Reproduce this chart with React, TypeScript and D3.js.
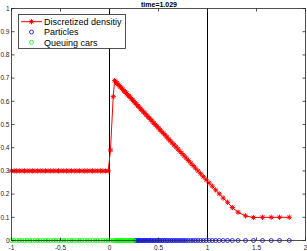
import React from "react";
import * as d3 from "d3";

const title = "time=1.029";
const xTicks = [-1, -0.5, 0, 0.5, 1, 1.5, 2];
const yTicks = [0, 0.1, 0.2, 0.3, 0.4, 0.5, 0.6, 0.7, 0.8, 0.9, 1];
const verticalLines = [0, 1];
const legendLabels = ["Discretized densitiy", "Particles", "Queuing cars"];

const densityX = [
  -1.0, -0.973, -0.947, -0.92, -0.893, -0.867, -0.84, -0.813, -0.787, -0.76,
  -0.733, -0.707, -0.68, -0.653, -0.627, -0.6, -0.573, -0.547, -0.52, -0.493,
  -0.467, -0.44, -0.413, -0.387, -0.36, -0.333, -0.307, -0.28, -0.253, -0.227,
  -0.2, -0.173, -0.147, -0.12, -0.093, -0.067, -0.04, -0.013,
  0.01, 0.038, 0.052, 0.064, 0.075, 0.087, 0.099, 0.111, 0.123, 0.135, 0.148,
  0.16, 0.173, 0.185, 0.198, 0.211, 0.224, 0.237, 0.25, 0.263, 0.277, 0.291,
  0.304, 0.318, 0.332, 0.347, 0.361, 0.376, 0.391, 0.406, 0.421, 0.436, 0.452,
  0.468, 0.484, 0.5, 0.516, 0.533, 0.55, 0.568, 0.585, 0.603, 0.621, 0.64,
  0.659, 0.679, 0.698, 0.719, 0.74, 0.761, 0.783, 0.805, 0.829, 0.853, 0.877,
  0.903, 0.93, 0.957, 0.986, 1.017, 1.049, 1.083, 1.12, 1.16, 1.204, 1.253,
  1.312, 1.388, 1.469, 1.561, 1.65, 1.735, 1.834,
];
const densityY = [
  0.3, 0.3, 0.3, 0.3, 0.3, 0.3, 0.3, 0.3, 0.3, 0.3,
  0.3, 0.3, 0.3, 0.3, 0.3, 0.3, 0.3, 0.3, 0.3, 0.3,
  0.3, 0.3, 0.3, 0.3, 0.3, 0.3, 0.3, 0.3, 0.3, 0.3,
  0.3, 0.3, 0.3, 0.3, 0.3, 0.3, 0.3, 0.3,
  0.39, 0.62, 0.689, 0.684, 0.678, 0.673, 0.668, 0.662, 0.657, 0.651, 0.645,
  0.64, 0.634, 0.628, 0.623, 0.617, 0.611, 0.605, 0.599, 0.593, 0.586, 0.58,
  0.574, 0.567, 0.561, 0.554, 0.548, 0.541, 0.534, 0.528, 0.521, 0.514, 0.506,
  0.499, 0.492, 0.485, 0.477, 0.469, 0.462, 0.454, 0.446, 0.437, 0.429, 0.42,
  0.412, 0.403, 0.394, 0.384, 0.375, 0.365, 0.355, 0.345, 0.334, 0.323, 0.312,
  0.3, 0.288, 0.275, 0.262, 0.248, 0.234, 0.218, 0.201, 0.183, 0.165, 0.142,
  0.122, 0.106, 0.099, 0.1, 0.1, 0.1, 0.1,
];

const queuingX = [
  -1.0, -0.973, -0.947, -0.92, -0.893, -0.867, -0.84, -0.813, -0.787, -0.76,
  -0.733, -0.707, -0.68, -0.653, -0.627, -0.6, -0.573, -0.547, -0.52, -0.493,
  -0.467, -0.44, -0.413, -0.387, -0.36, -0.333, -0.307, -0.28, -0.253, -0.227,
  -0.2, -0.173, -0.147, -0.12, -0.093, -0.067, -0.04, -0.013,
  0.01, 0.038, 0.052, 0.064, 0.075, 0.087, 0.099, 0.111, 0.123, 0.135, 0.148,
  0.16, 0.173, 0.185, 0.198, 0.211, 0.224, 0.237, 0.25,
];
const particlesX = [
  0.263, 0.277, 0.291, 0.304, 0.318, 0.332, 0.347, 0.361, 0.376, 0.391, 0.406,
  0.421, 0.436, 0.452, 0.468, 0.484, 0.5, 0.516, 0.533, 0.55, 0.568, 0.585,
  0.603, 0.621, 0.64, 0.659, 0.679, 0.698, 0.719, 0.74, 0.761, 0.783, 0.805,
  0.829, 0.853, 0.877, 0.903, 0.93, 0.957, 0.986, 1.017, 1.049, 1.083, 1.12,
  1.16, 1.204, 1.253, 1.312, 1.388, 1.469, 1.561, 1.65, 1.735, 1.834,
];

const W = 307;
const H = 251;
const FONT = "'Liberation Sans', Arial, Helvetica, sans-serif";
const AX = "#262626";

function asterisk(s: number) {
  const a = s * 0.72;
  return `M${-s},0L${s},0M0,${-s}L0,${s}M${-a},${-a}L${a},${a}M${-a},${a}L${a},${-a}`;
}

export default function App() {
  const x = d3.scaleLinear().domain([-1, 2]).range([11.5, 305.5]);
  const y = d3.scaleLinear().domain([0, 1]).range([240.5, 8.5]);
  const [x0, x1] = x.range();
  const [yb, yt] = y.range();

  const pts = densityX.map((d, i) => [d, densityY[i]] as [number, number]);
  const line = d3
    .line<[number, number]>()
    .x((d) => x(d[0]))
    .y((d) => y(d[1]));

  const ast = asterisk(2.6);
  const tl = 3;

  return (
    <svg
      width={W}
      height={H}
      style={{ position: "absolute", left: 0, top: 0, background: "#fff" }}
      fontFamily={FONT}
    >
      <rect x={0} y={0} width={W} height={H} fill="#fff" />
      {verticalLines.map((v) => (
        <line key={v} x1={x(v)} x2={x(v)} y1={yt} y2={yb} stroke="#000" strokeWidth={1} />
      ))}
      <path d={line(pts) || ""} fill="none" stroke="#ff0000" strokeWidth={1} />
      {pts.map((p, i) => (
        <path
          key={"a" + i}
          d={ast}
          transform={`translate(${x(p[0])},${y(p[1])})`}
          stroke="#ff0000"
          strokeWidth={1}
          fill="none"
        />
      ))}
      {particlesX.map((p, i) => (
        <circle key={"p" + i} cx={x(p)} cy={y(0)} r={2} fill="none" stroke="#0000ff" strokeWidth={0.8} />
      ))}
      {queuingX.map((p, i) => (
        <circle key={"q" + i} cx={x(p)} cy={y(0)} r={2} fill="none" stroke="#00ff00" strokeWidth={0.8} />
      ))}
      <rect x={x0} y={yt} width={x1 - x0} height={yb - yt} fill="none" stroke={AX} strokeWidth={0.8} />
      {xTicks.map((t) => (
        <g key={"xt" + t}>
          <line x1={x(t)} x2={x(t)} y1={yb} y2={yb - tl} stroke={AX} strokeWidth={0.8} />
          <line x1={x(t)} x2={x(t)} y1={yt} y2={yt + tl} stroke={AX} strokeWidth={0.8} />
          <text x={x(t)} y={249.5} fontSize={6.5} textAnchor="middle" fill={AX}>
            {String(t)}
          </text>
        </g>
      ))}
      {yTicks.map((t) => (
        <g key={"yt" + t}>
          <line x1={x0} x2={x0 + tl} y1={y(t)} y2={y(t)} stroke={AX} strokeWidth={0.8} />
          <line x1={x1} x2={x1 - tl} y1={y(t)} y2={y(t)} stroke={AX} strokeWidth={0.8} />
          <text x={9.5} y={y(t) + 2.3} fontSize={6.5} textAnchor="end" fill={AX}>
            {String(t)}
          </text>
        </g>
      ))}
      <text x={159} y={7} fontSize={7} fontWeight="bold" textAnchor="middle" fill="#000">
        {title}
      </text>
      <g>
        <rect x={18.5} y={14.5} width={107} height={34} fill="#fff" stroke={AX} strokeWidth={0.8} />
        {legendLabels.map((lab, i) => {
          const cy = 21.7 + i * 10.3;
          return (
            <g key={lab}>
              {i === 0 && (
                <>
                  <line x1={21} x2={42} y1={cy} y2={cy} stroke="#ff0000" strokeWidth={1} />
                  <path d={ast} transform={`translate(31.5,${cy})`} stroke="#ff0000" strokeWidth={1} fill="none" />
                </>
              )}
              {i === 1 && <circle cx={31.5} cy={cy} r={2} fill="none" stroke="#0000ff" strokeWidth={0.8} />}
              {i === 2 && <circle cx={31.5} cy={cy} r={2} fill="none" stroke="#00ff00" strokeWidth={0.8} />}
              <text x={44} y={cy + 3.2} fontSize={9} fill="#000">
                {lab}
              </text>
            </g>
          );
        })}
      </g>
    </svg>
  );
}
